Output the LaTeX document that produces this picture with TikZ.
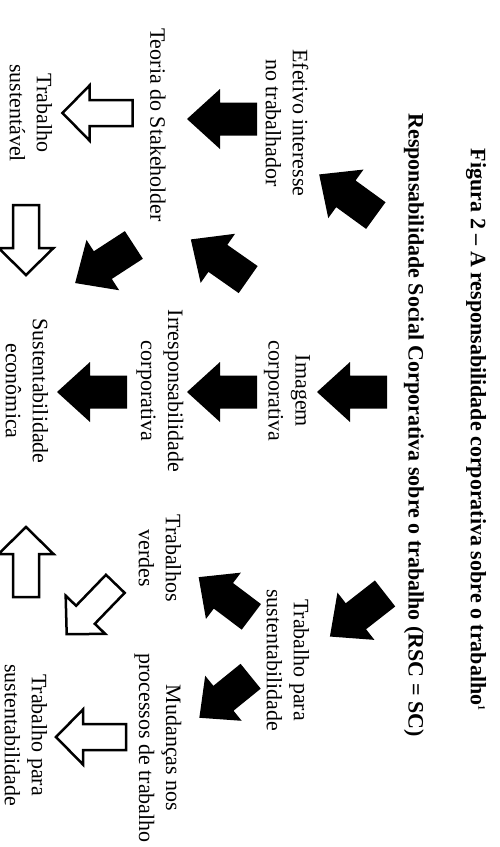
\documentclass[tikz,border=0pt]{standalone}
\usepackage{fontspec}
\setmainfont{Liberation Serif}
\begin{document}
\begin{tikzpicture}[x=1pt,y=-1pt,
  lbl/.style={rotate=-90, align=center, inner sep=0pt, font=\fontsize{22}{27}\selectfont},
  ttl/.style={rotate=-90, inner sep=0pt, font=\fontsize{22}{27}\selectfont\bfseries},
  blk/.pic={\fill[black] (35,0) -- (2,30) -- (2,16.5) -- (-35,16.5) -- (-35,-16.5) -- (2,-16.5) -- (2,-30) -- cycle;},
  dblk/.pic={\fill[black] (33,0) -- (2,29) -- (2,16) -- (-33,16) -- (-33,-16) -- (2,-16) -- (2,-29) -- cycle;},
  wht/.pic={\draw[line width=2.5pt, fill=white, line join=miter] (35,0) -- (8,27.5) -- (8,13) -- (-35,13) -- (-35,-13) -- (8,-13) -- (8,-27.5) -- cycle;}
]
\useasboundingbox[fill=white] (0,0) rectangle (499,847);

% titles
\node[ttl] (title) at (476,430) {Figura 2 – A responsabilidade corporativa sobre o trabalho\textsuperscript{\fontsize{10}{10}\selectfont 1}};
\node[ttl] (rsc) at (414,425) {Responsabilidade Social Corporativa sobre o trabalho (RSC = SC)};

% labels
\node[lbl] (efetivo) at (287,123) {Efetivo interesse\\no trabalhador};
\node[lbl] (imagem) at (287,391) {Imagem\\corporativa};
\node[lbl] (tps1) at (288,660) {Trabalho para\\sustentabilidade};
\node[lbl] (teoria) at (158,125) {Teoria do Stakeholder};
\node[lbl] (irresp) at (160,391) {Irresponsabilidade\\corporativa};
\node[lbl] (verdes) at (160,558) {Trabalhos\\verdes};
\node[lbl] (mudancas) at (158,748) {Mudanças nos\\processos de trabalho};
\node[lbl] (tsust) at (31,113) {Trabalho\\sustentável};
\node[lbl] (secon) at (27,391) {Sustentabilidade\\econômica};
\node[lbl] (tps2) at (26,735) {Trabalho para\\sustentabilidade};

% black arrows
\pic[shift={(347.5,195)},rotate=144] {blk};
\pic[shift={(352,392)},rotate=180] {blk};
\pic[shift={(357.5,615)},rotate=218] {blk};
\pic[shift={(222,119)},rotate=180] {blk};
\pic[shift={(222,392)},rotate=180] {blk};
\pic[shift={(219.5,259.5)},rotate=145] {blk};
\pic[shift={(104.5,264)},rotate=213] {blk};
\pic[shift={(92,392)},rotate=180] {blk};
\pic[shift={(225,597)},rotate=143] {dblk};
\pic[shift={(225,697)},rotate=219] {dblk};

% white arrows
\pic[shift={(97.5,113)},rotate=180] {wht};
\pic[shift={(26,240)},rotate=-90] {wht};
\pic[shift={(26,562)},rotate=90] {wht};
\pic[shift={(91,609)},rotate=226] {wht};
\pic[shift={(91,737)},rotate=180] {wht};
\end{tikzpicture}
\end{document}
